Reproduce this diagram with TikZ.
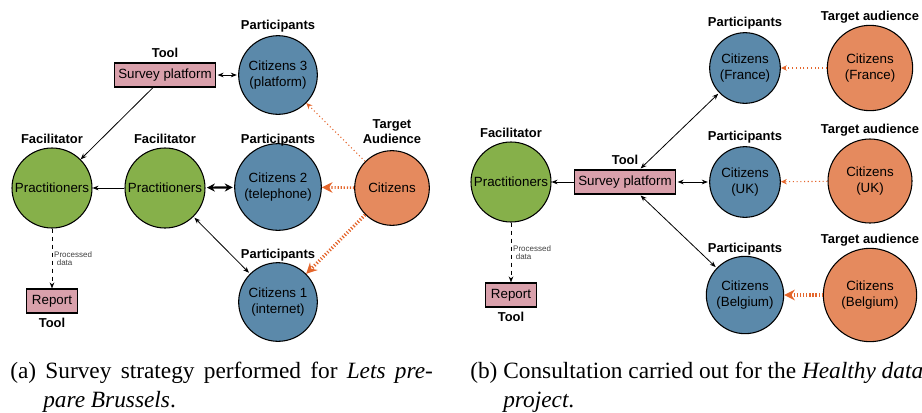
\documentclass[tikz,border=0pt]{standalone}
\usepackage{fontspec}
\setmainfont{Liberation Sans}
\newfontfamily\capfont{Liberation Serif}
\usepackage{tikz}
\usetikzlibrary{arrows.meta, positioning, shapes.geometric}
\definecolor{pracgreen}{HTML}{86B04A}
\definecolor{citblue}{HTML}{5B89AA}
\definecolor{tgtorange}{HTML}{E58A5E}
\definecolor{invorange}{HTML}{E4662C}
\definecolor{toolpink}{HTML}{D9A0AB}

\begin{document}
\begin{tikzpicture}[x=0.75pt, y=-0.75pt,
  every node/.style={font=\fontsize{10}{12}\selectfont, align=center},
  every label/.style={font=\bfseries\fontsize{9.7}{11.5}\selectfont, align=center},
  roundnode/.style={circle, draw=black, line width=0.8pt, inner sep=0pt},
  pracnode/.style={roundnode, fill=pracgreen},
  citnode/.style={roundnode, fill=citblue},
  tgtnode/.style={roundnode, fill=tgtorange},
  toolbox/.style={rectangle, draw=black, line width=0.9pt, fill=toolpink, minimum height=18pt, inner xsep=3pt, inner ysep=0pt},
  conn/.style={-{Stealth[length=4.5pt,width=3.5pt]}, line width=0.6pt},
  biconn/.style={{Stealth[length=4.5pt,width=3.5pt]}-{Stealth[length=4.5pt,width=3.5pt]}, line width=0.6pt, shorten <=1pt, shorten >=1pt},
  bigbiconn/.style={{Stealth[length=6pt,width=6pt]}-{Stealth[length=6pt,width=6pt]}, line width=1.6pt, shorten <=1pt, shorten >=1pt},
  invite/.style={-{Stealth[length=4.5pt,width=4pt]}, draw=invorange, line width=0.8pt, dotted},
  invitebig/.style={-{Stealth[length=8pt,width=8pt]}, draw=invorange, line width=2.4pt, dash pattern=on 0.9pt off 1.4pt},
  procdata/.style={conn, dashed},
  proclbl/.style={right, xshift=-2pt, align=left, font=\fontsize{6}{7}\selectfont, text=black!75},
]
  \useasboundingbox (0,0) rectangle (922,412);

  % (a) Lets prepare Brussels
  \node[pracnode, minimum size=60pt, label={[label distance=-1pt]above:Facilitator}] (pracA) at (52,188) {Practitioners};
  \node[pracnode, minimum size=60pt, label={[label distance=-1pt]above:Facilitator}] (pracB) at (165,188) {Practitioners};
  \node[toolbox, label=above:Tool] (platA) at (165,75) {Survey platform};
  \node[toolbox, inner xsep=4pt, label=below:Tool] (repA) at (52,301) {Report};
  \node[citnode, minimum size=59pt, label={[label distance=-1pt]above:Participants}] (cit3) at (278,75) {Citizens 3\\(platform)};
  \node[citnode, minimum size=65pt, label={[label distance=-6pt]above:Participants}] (cit2) at (278,187) {Citizens 2\\(telephone)};
  \node[citnode, minimum size=59pt, label={[label distance=-3pt]above:Participants}] (cit1) at (278,302) {Citizens 1\\(internet)};
  \node[tgtnode, minimum size=56pt, label={[label distance=1pt]above:Target\\Audience}] (tgtA) at (392,188) {Citizens};

  \draw[conn] ([xshift=-9pt]platA.south) -- (pracA.45);
  \draw[biconn] (platA) -- (cit3);
  \draw[conn] (pracB) -- (pracA);
  \draw[bigbiconn] (pracB) -- (cit2);
  \draw[biconn] (pracB) -- (cit1);
  \draw[procdata] (pracA) -- node[proclbl] {Processed\\[-1pt]\,\,data} (repA);
  \draw[invite] (tgtA) -- (cit3);
  \draw[invitebig, line width=2pt] (tgtA) -- (cit2);
  \draw[invitebig] (tgtA) -- (cit1);

  % (b) Healthy data
  \node[pracnode, minimum size=60pt, label={[label distance=-1pt]above:Facilitator}] (pracC) at (511,182) {Practitioners};
  \node[toolbox, label=above:Tool] (platB) at (625,182) {Survey platform};
  \node[toolbox, inner xsep=4pt, label=below:Tool] (repB) at (511,295) {Report};
  \node[citnode, minimum size=53pt, label={[label distance=-1pt]above:Participants}] (citFr) at (745,68) {Citizens\\(France)};
  \node[citnode, minimum size=53pt, label={[label distance=-1pt]above:Participants}] (citUk) at (745,182) {Citizens\\(UK)};
  \node[citnode, minimum size=58pt, label={[label distance=-3pt]above:Participants}] (citBe) at (745,295) {Citizens\\(Belgium)};
  \node[tgtnode, minimum size=64pt, label={[label distance=-2pt]above:Target audience}] (tgtFr) at (870,68) {Citizens\\(France)};
  \node[tgtnode, minimum size=63pt, label={[label distance=-2pt]above:Target audience}] (tgtUk) at (870,181) {Citizens\\(UK)};
  \node[tgtnode, minimum size=70pt, label={[label distance=-2pt]above:Target audience}] (tgtBe) at (870,295) {Citizens\\(Belgium)};

  \draw[conn] (platB) -- (pracC);
  \draw[biconn] (platB) -- (citUk);
  \draw[biconn] ([xshift=11pt]platB.north) -- (citFr);
  \draw[biconn] ([xshift=11pt]platB.south) -- (citBe);
  \draw[procdata] (pracC) -- node[proclbl] {Processed\\[-1pt]\,\,data} (repB);
  \draw[invite] (tgtFr) -- (citFr);
  \draw[invite] (tgtUk) -- (citUk);
  \draw[invitebig] (tgtBe) -- (citBe);

  % captions
  \node[anchor=base west, inner sep=0pt, font=\capfont\fontsize{17.5}{21}\selectfont] (capA1) at (10,378) {\hbox to 317pt{(a) Survey strategy performed for \textit{Lets pre-}}};
  \node[anchor=base west, inner sep=0pt, font=\capfont\fontsize{17.5}{21}\selectfont] (capA2) at (43,407) {\textit{pare Brussels}.};
  \node[anchor=base west, inner sep=0pt, font=\capfont\fontsize{17.5}{21}\selectfont] (capB1) at (470,378) {(b) Consultation carried out for the \textit{Healthy data}};
  \node[anchor=base west, inner sep=0pt, font=\capfont\fontsize{17.5}{21}\selectfont] (capB2) at (503,407) {\textit{project}.};
\end{tikzpicture}
\end{document}
